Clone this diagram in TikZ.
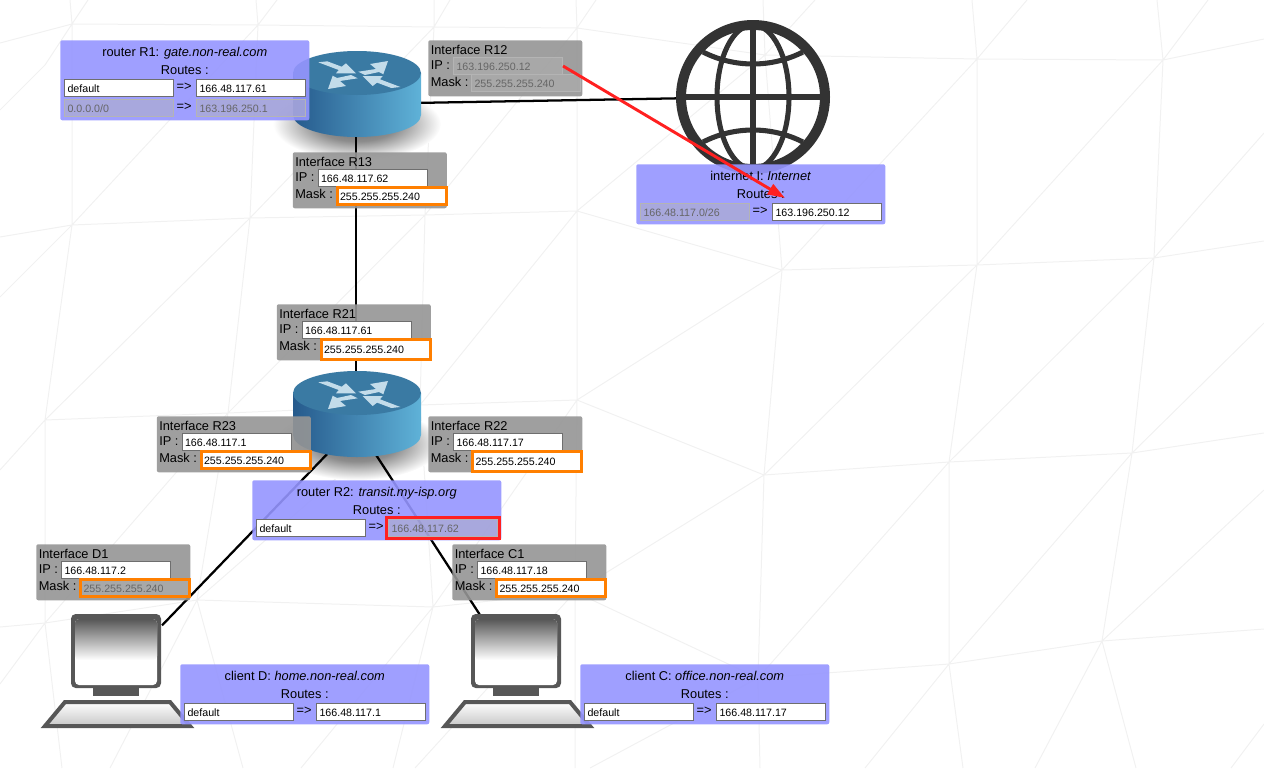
\documentclass[tikz,border=0pt]{standalone}
\usepackage{fontspec}
\setmainfont{Liberation Sans}
\usetikzlibrary{positioning,arrows.meta,fit,calc,shapes.geometric}
\definecolor{ifc}{HTML}{959595}
\definecolor{rtc}{HTML}{9595FF}
\definecolor{fldc}{HTML}{6E6E6E}
\definecolor{dimc}{HTML}{B4B4B4}
\definecolor{dimt}{HTML}{666666}
\definecolor{oranc}{HTML}{FF7F00}
\definecolor{redc}{HTML}{FF2020}
\definecolor{meshc}{HTML}{F1F1F1}
\definecolor{pcc}{HTML}{575757}
\definecolor{globec}{HTML}{333333}
\definecolor{rttop}{HTML}{3A7AA3}
\definecolor{rtleft}{HTML}{265A8C}
\definecolor{rtmid}{HTML}{3F80AE}
\definecolor{rtright}{HTML}{5FB2D8}
\definecolor{rtarc}{HTML}{C3DCEA}
\pgfdeclareradialshading{rtshadow}{\pgfpointorigin}{color(0bp)=(black!60); color(12bp)=(black!45); color(25bp)=(white); color(50bp)=(white)}
\tikzset{
  mesh/.style={draw=meshc, line width=0.75pt},
  link/.style={draw=black, line width=1.7pt},
  rarr/.style={-{Triangle[length=13pt,width=8.5pt]}, draw=redc, fill=redc, line width=2.2pt},
  devnode/.style={inner sep=0pt, outer sep=0pt},
  ifbox/.style={anchor=north west, fill=ifc, fill opacity=0.9, rounded corners=1.5pt,
                minimum width=115.5pt, minimum height=42pt, inner sep=0pt},
  rtbox/.style={anchor=north west, fill=rtc, fill opacity=0.9, rounded corners=1.5pt,
                minimum width=186.75pt, inner sep=0pt},
  lbl/.style={anchor=base west, inner sep=0pt, font=\fontsize{9.6}{11}\selectfont},
  ttl/.style={anchor=base, inner sep=0pt, font=\fontsize{9.6}{11}\selectfont},
  fld/.style={anchor=north west, draw=fldc, fill=white, line width=0.75pt, align=left,
              text width=77.25pt, inner xsep=2.25pt, inner ysep=0pt, minimum height=12.75pt,
              text height=7.5pt, text depth=1pt, font=\fontsize{8}{9}\selectfont},
  dfld/.style={fld, draw=dimc, fill=dimc, fill opacity=0.45, text opacity=1, text=dimt},
  ofld/.style={fld, draw=oranc, line width=2.25pt},
  dofld/.style={dfld, draw=oranc, draw opacity=1, line width=2.25pt},
  redbox/.style={draw=redc, line width=2.3pt, inner sep=1.4pt},
  routerfoot/.pic={
    \shade[shading=rtshadow] (1,20) ellipse [x radius=84, y radius=36];
  },
  routericon/.pic={
    \shade[left color=rtleft, middle color=rtmid, right color=rtright]
      (-63,-31) -- (-63,11) arc[start angle=180, end angle=0, x radius=64, y radius=22] -- (65,-31) -- cycle;
    \fill[rttop] (1,-31) ellipse [x radius=64, y radius=22];
    \fill[rtarc] (-37.7,-41.7) -- (-28.7,-42.7) -- (-14.3,-37.3) -- (-10,-40.7) -- (0,-30.7) -- (-20,-30.7) -- (-17.3,-34) -- cycle;
    \fill[rtarc] (44.4,-17) -- (35.4,-16) -- (21,-21.4) -- (16.7,-18) -- (6.7,-28) -- (26.7,-28) -- (24,-24.7) -- cycle;
    \fill[rtarc] (32,-43) -- (14,-40) -- (20,-35) -- (2.3,-32.3) -- (9,-29) -- (23,-32) -- (27.3,-29.7) -- cycle;
    \fill[rtarc] (-28,-15) -- (-10,-18) -- (-16,-23) -- (1.7,-25.7) -- (-5,-29) -- (-19,-26) -- (-23.3,-28.3) -- cycle;
  },
  globeicon/.pic={
    \draw[globec, line width=7.5pt] (0,0) circle [radius=72];
    \draw[globec, line width=3.8pt] (-72,0) -- (72,0);
    \draw[globec, line width=3.8pt] (0,-72) -- (0,72);
    \draw[globec, line width=3.8pt] (0,0) ellipse [x radius=36, y radius=72];
    \draw[globec, line width=3.8pt] (-50,-45) arc[start angle=117, end angle=63, radius=110];
    \draw[globec, line width=3.8pt] (-50,45) arc[start angle=243, end angle=297, radius=110];
  },
  pcicon/.pic={
    \fill[pcc, rounded corners=3.5pt] (-46,-58) rectangle (44,16);
    \fill[white, rounded corners=3pt] (-42,-53) rectangle (40,13);
    \shade[top color=pcc, bottom color=white, rounded corners=3pt] (-42,-53) rectangle (40,-12);
    \fill[pcc] (-24,16) rectangle (22,24);
    \shade[draw=pcc, line width=3pt, top color=white, bottom color=black!22]
      (-72,54) -- (-52,30) -- (53,30) -- (73,54) -- cycle;
  },
}
\newcommand{\ifpanel}[8]{%
  \begin{scope}[shift={(#2,#3)}]
    \node[ifbox] (#1) at (0,0) {};
    \node[lbl] (#1t) at (2.5,14.7) {Interface #4};
    \node[lbl] (#1i) at (2.5,29.7) {IP :};
    \node[lbl] (#1m) at (2.5,46) {Mask :};
    \node[#5] (#1ip) at (25,17) {#6};
    \node[#7] (#1mk) at (43,34) {#8};
  \end{scope}
}
\newcommand{\routepanel}[5]{%
  \node[rtbox, minimum height=#4] (#1) at (#2,#3) {};
  \node[ttl] (#1t) at ($(#1.north)+(0,16)$) {#5};
  \node[ttl] (#1h) at ($(#1.north)+(0,34)$) {Routes :};
}
\newcommand{\routerow}[7]{%
  \node[#4] (#1#2l) at ($(#1.north west)+(4,#3)$) {#5};
  \node[ttl] (#1#2a) at ($(#1.north west)+(124,#3+11)$) {=>};
  \node[#6] (#1#2r) at ($(#1.north west)+(136,#3)$) {#7};
}

\begin{document}
\begin{tikzpicture}[x=0.75pt,y=-0.75pt]
  \useasboundingbox (0,0) rectangle (1264,768);
  \draw[mesh] (72,24) -- (0,43) (72,24) -- (70,0) (72,24) -- (88,0) (72,24) -- (45,65) -- (0,110)
    (72,24) -- (258,25) -- (434,27) -- (577,28) -- (765,55) -- (977,59) -- (1163,60) -- (1264,39)
    (258,25) -- (256,0) (258,25) -- (277,0) (434,27) -- (434,0) (434,27) -- (450,0)
    (577,28) -- (576,0) (577,28) -- (596,0) (765,55) -- (763,0) (765,55) -- (815,0)
    (977,59) -- (972,0) (977,59) -- (1027,0) (1163,60) -- (1157,0) (1163,60) -- (1208,0)
    (72,24) -- (72,225) (258,25) -- (72,225) (258,25) -- (250,218) (434,27) -- (250,218)
    (434,27) -- (425,215) (577,28) -- (425,215) (577,28) -- (577,211) (765,55) -- (577,211)
    (765,55) -- (782,270) (977,59) -- (782,270) (977,59) -- (977,265) (1163,60) -- (977,265)
    (1163,60) -- (1154,258) (1264,133) -- (1154,258)
    (0,237) -- (72,225) -- (250,218) -- (425,215) -- (577,211) -- (782,270) -- (977,265) -- (1154,258) -- (1264,241)
    (72,225) -- (0,297) (72,225) -- (45,420) (250,218) -- (45,420) (250,218) -- (228,413)
    (425,215) -- (228,413) (425,215) -- (420,405) (577,211) -- (420,405) (577,211) -- (577,400)
    (782,270) -- (577,400) (782,270) -- (764,475) (977,265) -- (764,475) (977,265) -- (949,462)
    (1154,258) -- (949,462) (1154,258) -- (1132,453) (1264,323) -- (1132,453)
    (0,470) -- (45,420) -- (228,413) -- (420,405) -- (577,400) -- (764,475) -- (949,462) -- (1132,453) -- (1264,433)
    (45,420) -- (45,623) (228,413) -- (45,623) (228,413) -- (197,600) (420,405) -- (197,600)
    (420,405) -- (433,607) (577,400) -- (433,607) (577,400) -- (575,592) (764,475) -- (575,592)
    (764,475) -- (758,678) (949,462) -- (758,678) (949,462) -- (949,664) (1132,453) -- (949,664)
    (1132,453) -- (1102,641) (1264,490) -- (1102,641)
    (0,627) -- (45,623) -- (197,600) -- (433,607) -- (575,592) -- (758,678) -- (949,664) -- (1102,641) -- (1264,629)
    (45,623) -- (0,684) (45,623) -- (62,768) (197,600) -- (110,768) (197,600) -- (243,768)
    (433,607) -- (301,768) (433,607) -- (393,768) (575,592) -- (415,768) (575,592) -- (575,768)
    (758,678) -- (590,768) (758,678) -- (760,768) (949,664) -- (865,768) (949,664) -- (963,768)
    (1102,641) -- (1035,768) (1102,641) -- (1136,768) (1264,724) -- (1231,768);

  \node[devnode, minimum width=90pt, minimum height=45pt] (r1) at (356,104) {};
  \node[devnode, minimum width=90pt, minimum height=45pt] (r2) at (356,424) {};
  \node[devnode, circle, minimum size=115.5pt] (net) at (753,97) {};
  \node[devnode, minimum width=67.5pt, minimum height=85.5pt] (cld) at (117,672) {};
  \node[devnode, minimum width=67.5pt, minimum height=85.5pt] (clc) at (517,672) {};

  \foreach \n in {r1,r2} \pic at (\n) {routerfoot};
  \draw[link] (r1) -- (net);
  \draw[link] (r1) -- (r2);
  \draw[link] (r2) -- (cld);
  \draw[link] (r2) -- (clc);
  \foreach \n in {r1,r2} \pic at (\n) {routericon};
  \foreach \n in {cld,clc} \pic at (\n) {pcicon};
  \pic at (net) {globeicon};

  \routepanel{gate}{60}{40}{60pt}{router R1: \textit{gate.non-real.com}}
  \routerow{gate}{a}{39}{fld}{default}{fld}{166.48.117.61}
  \routerow{gate}{b}{59}{dfld}{0.0.0.0/0}{dfld}{163.196.250.1}
  \routepanel{inet}{636}{164}{45pt}{internet I: \textit{Internet}}
  \routerow{inet}{a}{39}{dfld}{166.48.117.0/26}{fld}{163.196.250.12}
  \routepanel{transit}{252}{480}{45pt}{router R2: \textit{transit.my-isp.org}}
  \routerow{transit}{a}{39}{fld}{default}{dfld}{166.48.117.62}
  \node[redbox, fit=(transitar)] (transitbad) {};
  \routepanel{home}{180}{664}{45pt}{client D: \textit{home.non-real.com}}
  \routerow{home}{a}{39}{fld}{default}{fld}{166.48.117.1}
  \routepanel{office}{580}{664}{45pt}{client C: \textit{office.non-real.com}}
  \routerow{office}{a}{39}{fld}{default}{fld}{166.48.117.17}

  \ifpanel{rtw}{428}{40}{R12}{dfld}{163.196.250.12}{dfld}{255.255.255.240}
  \ifpanel{rth}{292.5}{152}{R13}{fld}{166.48.117.62}{ofld}{255.255.255.240}
  \ifpanel{ron}{276.5}{304}{R21}{fld}{166.48.117.61}{ofld, minimum height=15pt}{255.255.255.240}
  \ifpanel{rtt}{156.5}{416}{R23}{fld}{166.48.117.1}{ofld}{255.255.255.240}
  \ifpanel{rtn}{428}{416}{R22}{fld}{166.48.117.17}{ofld, minimum height=15pt}{255.255.255.240}
  \ifpanel{cd}{36}{544}{D1}{fld}{166.48.117.2}{dofld}{255.255.255.240}
  \ifpanel{cc}{452}{544}{C1}{fld}{166.48.117.18}{ofld}{255.255.255.240}

  \coordinate (nettip) at (785,198);
  \draw[rarr] (rtwip.east) -- (nettip);
\end{tikzpicture}
\end{document}
